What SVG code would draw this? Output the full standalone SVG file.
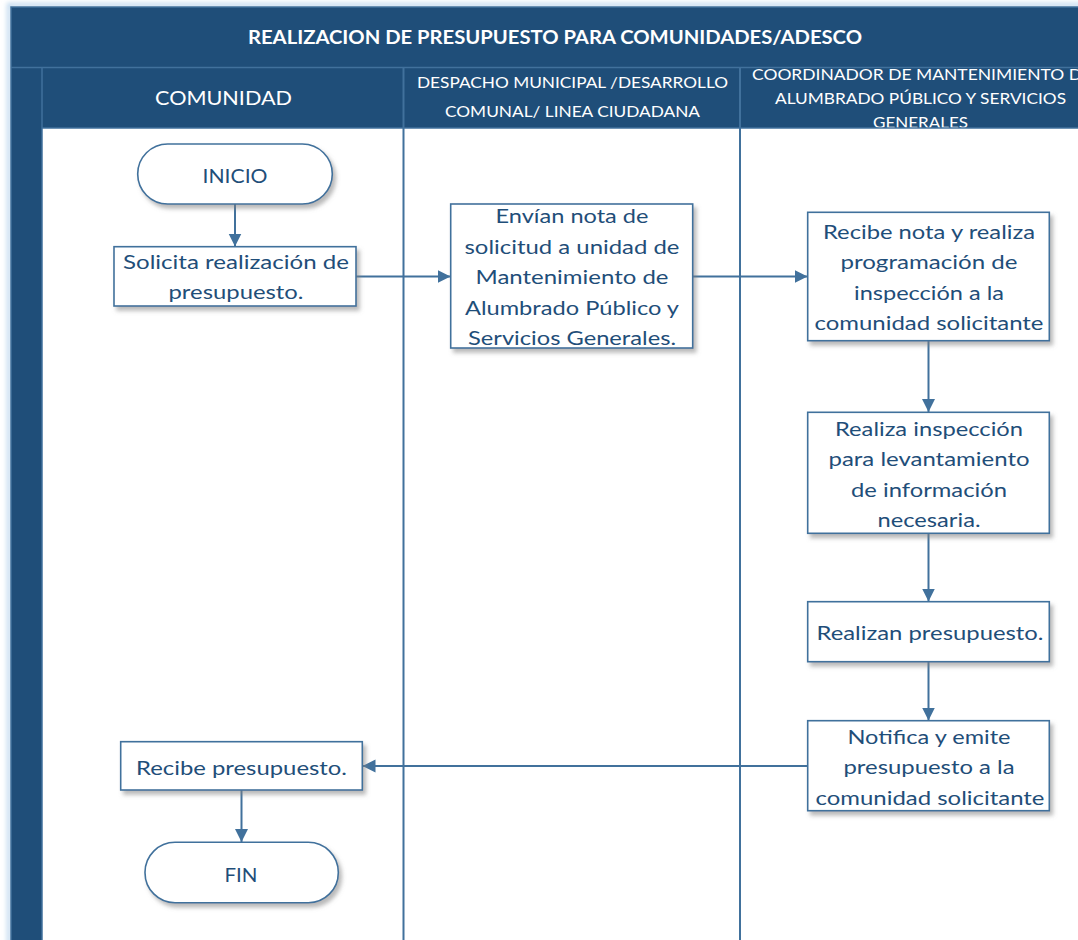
<svg xmlns="http://www.w3.org/2000/svg" width="1078" height="940" viewBox="0 0 1078 940">
  <defs>
    <style>
      .band { fill: #1F4E79; stroke: #41719C; stroke-width: 1.5; }
      .rule { stroke: #41719C; stroke-width: 1.5; fill: none; }
      .lane { stroke: #41719C; stroke-width: 2; fill: none; }
      .title { font-family: Lato, "Liberation Sans", sans-serif; font-weight: bold; font-size: 18.5px; fill: #FFFFFF; }
      .head { font-family: Lato, "Liberation Sans", sans-serif; fill: #FFFFFF; }
      .box { fill: #FFFFFF; stroke: #41719C; stroke-width: 1.6; filter: url(#shadow); }
      .label { font-family: Lato, "Liberation Sans", sans-serif; font-size: 19.5px; fill: #1F4E79; text-anchor: middle; }
      .conn { stroke: #41719C; stroke-width: 2; fill: none; marker-end: url(#arrow); }
    </style>
    <filter id="shadow" x="-10%" y="-10%" width="130%" height="140%">
      <feDropShadow dx="3" dy="4" stdDeviation="2" flood-color="#7F7F7F" flood-opacity="0.55"/>
    </filter>
    <filter id="glow" x="-5%" y="-5%" width="110%" height="110%">
      <feGaussianBlur stdDeviation="2.5"/>
    </filter>
    <marker id="arrow" markerUnits="userSpaceOnUse" markerWidth="14" markerHeight="14" refX="13" refY="6.5" orient="auto">
      <path d="M0,0 L13,6.5 L0,13 Z" fill="#41719C"/>
    </marker>
  </defs>

  <rect width="1078" height="940" fill="#FFFFFF"/>

  <!-- pool frame with soft halo -->
  <rect x="9" y="5" width="1090" height="950" fill="none" stroke="#BDD7EE" stroke-width="4" filter="url(#glow)"/>
  <rect class="band" x="11" y="7" width="1090" height="950"/>

  <!-- title -->
  <text class="title" x="248" y="43.5" textLength="614" lengthAdjust="spacingAndGlyphs">REALIZACION DE PRESUPUESTO PARA COMUNIDADES/ADESCO</text>
  <line class="rule" x1="11" y1="67.5" x2="1078" y2="67.5"/>

  <!-- lane headers -->
  <text class="head" font-size="18.5" x="155" y="105" textLength="137" lengthAdjust="spacingAndGlyphs">COMUNIDAD</text>
  <text class="head" font-size="15.5" x="417" y="88" textLength="311" lengthAdjust="spacingAndGlyphs">DESPACHO MUNICIPAL /DESARROLLO</text>
  <text class="head" font-size="15.5" x="445" y="117" textLength="255" lengthAdjust="spacingAndGlyphs">COMUNAL/ LINEA CIUDADANA</text>
  <text class="head" font-size="15.5" x="752" y="79.5" textLength="340" lengthAdjust="spacingAndGlyphs">COORDINADOR DE MANTENIMIENTO DE</text>
  <text class="head" font-size="15.5" x="775" y="104" textLength="291" lengthAdjust="spacingAndGlyphs">ALUMBRADO PÚBLICO Y SERVICIOS</text>
  <text class="head" font-size="15.5" x="873" y="128" textLength="95" lengthAdjust="spacingAndGlyphs">GENERALES</text>

  <!-- lane bodies -->
  <rect x="42" y="128" width="1040" height="815" fill="#FFFFFF"/>
  <line class="rule" x1="42" y1="128" x2="1078" y2="128"/>
  <line class="rule" x1="42" y1="67.5" x2="42" y2="940"/>
  <line class="lane" x1="403.5" y1="67.5" x2="403.5" y2="940"/>
  <line class="lane" x1="740" y1="67.5" x2="740" y2="940"/>

  <!-- connectors -->
  <g id="connectors">
    <path class="conn" d="M235 204 V246.5"/>
    <path class="conn" d="M356 276.5 H450.5"/>
    <path class="conn" d="M692.5 276.5 H807.5"/>
    <path class="conn" d="M928.5 340.7 V412"/>
    <path class="conn" d="M928.5 533.3 V601.5"/>
    <path class="conn" d="M928.5 661.7 V720.5"/>
    <path class="conn" d="M807.7 766 H362.5"/>
    <path class="conn" d="M241.5 790 V842"/>
  </g>

  <!-- nodes -->
  <g id="inicio">
    <rect class="box" x="137.7" y="144" width="194.6" height="60" rx="30" ry="30"/>
    <text class="label" x="235" y="183" textLength="65" lengthAdjust="spacingAndGlyphs">INICIO</text>
  </g>

  <g id="solicita">
    <rect class="box" x="114" y="246.7" width="242" height="59.3"/>
    <text class="label" x="236" y="268.5" textLength="226" lengthAdjust="spacingAndGlyphs">Solicita realización de</text>
    <text class="label" x="236" y="298.5" textLength="135" lengthAdjust="spacingAndGlyphs">presupuesto.</text>
  </g>

  <g id="envian">
    <rect class="box" x="450.7" y="204" width="242" height="144"/>
    <text class="label" x="572" y="223" textLength="153" lengthAdjust="spacingAndGlyphs">Envían nota de</text>
    <text class="label" x="572" y="253.5" textLength="215" lengthAdjust="spacingAndGlyphs">solicitud a unidad de</text>
    <text class="label" x="572" y="284" textLength="193" lengthAdjust="spacingAndGlyphs">Mantenimiento de</text>
    <text class="label" x="572" y="314.5" textLength="214" lengthAdjust="spacingAndGlyphs">Alumbrado Público y</text>
    <text class="label" x="572" y="345" textLength="208" lengthAdjust="spacingAndGlyphs">Servicios Generales.</text>
  </g>

  <g id="recibe-nota">
    <rect class="box" x="807.7" y="212.3" width="241.6" height="128.4"/>
    <text class="label" x="929" y="238.5" textLength="212" lengthAdjust="spacingAndGlyphs">Recibe nota y realiza</text>
    <text class="label" x="929" y="269" textLength="177" lengthAdjust="spacingAndGlyphs">programación de</text>
    <text class="label" x="929" y="299.5" textLength="150" lengthAdjust="spacingAndGlyphs">inspección a la</text>
    <text class="label" x="929" y="330" textLength="229" lengthAdjust="spacingAndGlyphs">comunidad solicitante</text>
  </g>

  <g id="inspeccion">
    <rect class="box" x="807.7" y="412.3" width="241.6" height="121"/>
    <text class="label" x="929" y="435.5" textLength="188" lengthAdjust="spacingAndGlyphs">Realiza inspección</text>
    <text class="label" x="929" y="466" textLength="201" lengthAdjust="spacingAndGlyphs">para levantamiento</text>
    <text class="label" x="929" y="496.5" textLength="156" lengthAdjust="spacingAndGlyphs">de información</text>
    <text class="label" x="929" y="527" textLength="103" lengthAdjust="spacingAndGlyphs">necesaria.</text>
  </g>

  <g id="realizan">
    <rect class="box" x="807.7" y="601.7" width="241.6" height="60"/>
    <text class="label" x="930" y="640" textLength="227" lengthAdjust="spacingAndGlyphs">Realizan presupuesto.</text>
  </g>

  <g id="notifica">
    <rect class="box" x="807.7" y="720.7" width="241.6" height="90"/>
    <text class="label" x="929" y="743.5" textLength="163" lengthAdjust="spacingAndGlyphs">Notifica y emite</text>
    <text class="label" x="929" y="774" textLength="171" lengthAdjust="spacingAndGlyphs">presupuesto a la</text>
    <text class="label" x="930" y="804.5" textLength="229" lengthAdjust="spacingAndGlyphs">comunidad solicitante</text>
  </g>

  <g id="recibe-presupuesto">
    <rect class="box" x="120.7" y="741.7" width="241.6" height="48.3"/>
    <text class="label" x="241.5" y="775" textLength="211" lengthAdjust="spacingAndGlyphs">Recibe presupuesto.</text>
  </g>

  <g id="fin">
    <rect class="box" x="145" y="842.3" width="193.3" height="60.4" rx="30" ry="30"/>
    <text class="label" x="241" y="881.5" textLength="33" lengthAdjust="spacingAndGlyphs">FIN</text>
  </g>
</svg>
